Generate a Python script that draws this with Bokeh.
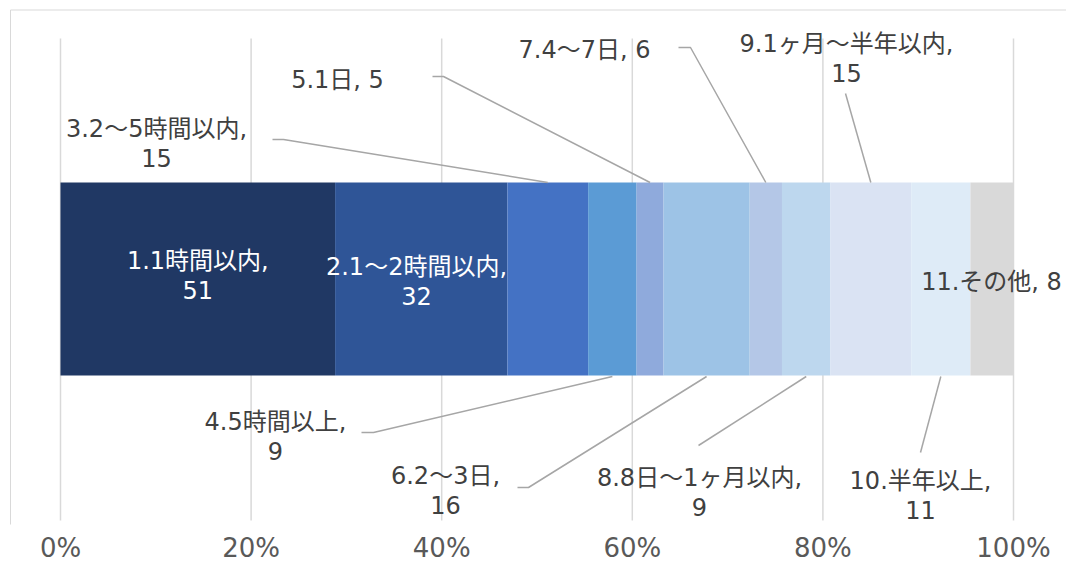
from bokeh.plotting import figure
from bokeh.models import Range1d, FixedTicker, NumeralTickFormatter
from bokeh.core.properties import value
from bokeh.embed import file_html
from bokeh.resources import INLINE

# ---- data ----
categories = ["1.1時間以内", "2.1～2時間以内", "3.2～5時間以内", "4.5時間以上", "5.1日",
              "6.2～3日", "7.4～7日", "8.8日～1ヶ月以内", "9.1ヶ月～半年以内", "10.半年以上", "11.その他"]
values = [51, 32, 15, 9, 5, 16, 6, 9, 15, 11, 8]
tick_values = [0, 0.2, 0.4, 0.6, 0.8, 1.0]

colors = ["#203864", "#2F5597", "#4472C4", "#5B9BD5", "#8FAADC", "#9DC3E6",
          "#B4C7E7", "#BDD7EE", "#DAE3F3", "#DEEBF7", "#D9D9D9"]

FONT = "DejaVu Sans, Noto Sans CJK JP"
W, H = 1066, 568
X0, X1 = 60, 1013          # pixel positions of 0% and 100%
FRAME_H = 524
BAR_TOP, BAR_BOT = 182, 375
GRID_TOP, GRID_BOT = 38, 520
LINE = 29.5

def fx(px):
    return (px - X0) / (X1 - X0)

total = sum(values)
starts, ends = [], []
acc = 0
for v in values:
    starts.append(acc / total)
    acc += v
    ends.append(acc / total)
mids = [(s + e) / 2 for s, e in zip(starts, ends)]

p = figure(frame_width=W, frame_height=FRAME_H, output_backend="svg", toolbar_location=None,
           x_range=Range1d(fx(0), fx(W)), y_range=Range1d(FRAME_H, 0),
           min_border_left=0, min_border_right=0, min_border_top=0, min_border_bottom=0)
p.outline_line_color = None
p.background_fill_color = "white"
p.border_fill_color = "white"
p.yaxis.visible = False
p.xgrid.visible = False
p.ygrid.visible = False

# chart border (top and left edges visible)
p.segment(x0=[fx(10), fx(10)], x1=[fx(W + 10), fx(10)], y0=[9.5, 9.5], y1=[9.5, H + 10],
          line_color="#D9D9D9", line_width=1)

# grid lines
p.segment(x0=tick_values, x1=tick_values, y0=[GRID_TOP] * len(tick_values),
          y1=[GRID_BOT] * len(tick_values), line_color="#D9D9D9", line_width=1.5)

# bars
p.hbar(y=(BAR_TOP + BAR_BOT) / 2, height=BAR_BOT - BAR_TOP, left=starts, right=ends,
       fill_color=colors, line_color=None)

# axis
ax = p.xaxis[0]
ax.ticker = FixedTicker(ticks=tick_values)
ax.formatter = NumeralTickFormatter(format="0%")
ax.axis_line_color = None
ax.major_tick_line_color = None
ax.minor_tick_line_color = None
ax.major_label_text_font = FONT
ax.major_label_text_font_size = "26px"
ax.major_label_text_color = "#595959"
ax.major_label_standoff = 2

# label layout: (text x px or None for segment middle, first line y px, two lines?, elbow points, side)
layout = [
    (None, 260, True, [], None),
    (416, 266, True, [], None),
    (156, 128, True, [(272, 139), (283, 139)], "top"),
    (275, 421, True, [(361, 432), (373, 432)], "bot"),
    (337, 79, False, [(432, 76), (443, 76)], "top"),
    (445, 475, True, [(517, 487), (528, 487)], "bot"),
    (584, 49, False, [(678, 47), (690, 47)], "top"),
    (699, 477, True, [(698, 445)], "bot"),
    (846, 43, True, [(845, 93)], "top"),
    (920, 480, True, [(920, 452)], "bot"),
    (991, 281, False, [], None),
]

tx, ty, tt, tc = [], [], [], []
lxs, lys = [], []
for i, (x, y, two, pts, side) in enumerate(layout):
    xx = mids[i] if x is None else fx(x)
    col = "white" if i < 2 else "#404040"
    if two:
        lines = [f"{categories[i]},", f"{values[i]}"]
    else:
        lines = [f"{categories[i]}, {values[i]}"]
    for k, ln in enumerate(lines):
        tx.append(xx)
        ty.append(y + k * LINE)
        tt.append(ln)
        tc.append(col)
    if side:
        xs = [fx(a) for a, b in pts] + [mids[i]]
        ys = [b for a, b in pts] + [BAR_TOP if side == "top" else BAR_BOT + 1]
        lxs.append(xs)
        lys.append(ys)

p.multi_line(xs=lxs, ys=lys, line_color="#A6A6A6", line_width=1.5)
p.text(x=tx, y=ty, text=tt, text_color=tc, text_font=value(FONT), text_font_size="24px",
       text_align="center", text_baseline="middle")

open("out.html", "w").write(file_html(p, INLINE))
